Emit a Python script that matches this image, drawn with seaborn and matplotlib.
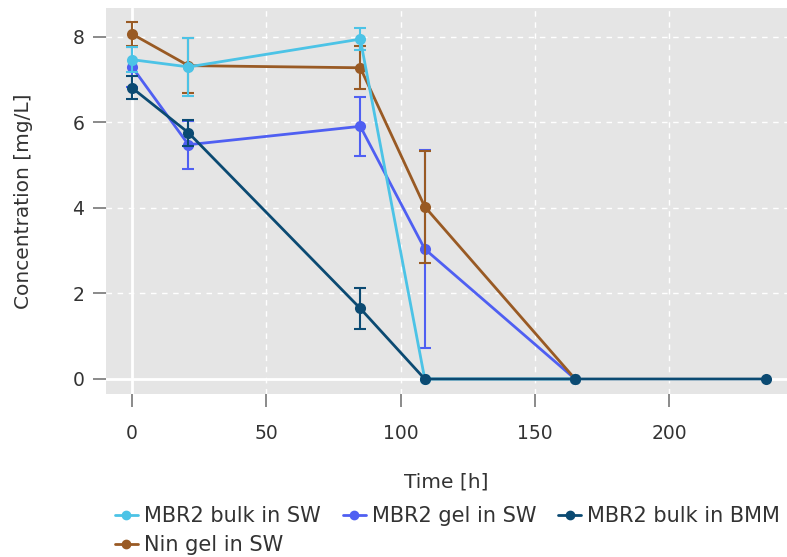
import matplotlib
matplotlib.use("Agg")
import matplotlib.pyplot as plt
import seaborn as sns
import pandas as pd
import numpy as np
from matplotlib.lines import Line2D

# ---- data ----
series_names = ["MBR2 bulk in SW", "MBR2 gel in SW", "MBR2 bulk in BMM", "Nin gel in SW"]

t_bulk_sw = [0, 21, 85, 109, 165]
c_bulk_sw = [7.47, 7.30, 7.95, 0.0, 0.0]
e_bulk_sw = [0.30, 0.67, 0.26, 0.0, 0.0]

t_gel_sw = [0, 21, 85, 109, 165]
c_gel_sw = [7.30, 5.48, 5.91, 3.04, 0.0]
e_gel_sw = [0.47, 0.56, 0.69, 2.31, 0.0]

t_bulk_bmm = [0, 21, 85, 109, 165, 236]
c_bulk_bmm = [6.81, 5.76, 1.65, 0.0, 0.0, 0.0]
e_bulk_bmm = [0.27, 0.30, 0.48, 0.0, 0.0, 0.0]

t_nin = [0, 21, 85, 109, 165]
c_nin = [8.07, 7.33, 7.28, 4.03, 0.0]
e_nin = [0.28, 0.65, 0.50, 1.31, 0.0]

x_ticks = [0, 50, 100, 150, 200]
y_ticks = [0, 2, 4, 6, 8]

colors = {"MBR2 bulk in SW": "#4cc3e6",
          "MBR2 gel in SW": "#4f5ff2",
          "MBR2 bulk in BMM": "#0b4a72",
          "Nin gel in SW": "#995a24"}

frames = []
for name, t, c, e in [("MBR2 bulk in SW", t_bulk_sw, c_bulk_sw, e_bulk_sw),
                      ("MBR2 gel in SW", t_gel_sw, c_gel_sw, e_gel_sw),
                      ("MBR2 bulk in BMM", t_bulk_bmm, c_bulk_bmm, e_bulk_bmm),
                      ("Nin gel in SW", t_nin, c_nin, e_nin)]:
    frames.append(pd.DataFrame({"Time": t, "Conc": c, "Err": e, "Series": name}))
df = pd.concat(frames, ignore_index=True)

sns.set_theme(style="darkgrid")
plt.rcParams["font.family"] = ["DejaVu Sans"]

fig = plt.figure(figsize=(7.87, 5.57), dpi=100)
ax = fig.add_axes([106/787, 1 - 394/557, 681/787, 386/557])
ax.set_facecolor("#e5e5e5")

ax.set_xlim(-9.7, 243.9)
ax.set_ylim(-0.351, 8.678)
ax.set_xticks(x_ticks)
ax.set_yticks(y_ticks)
ax.grid(True, color="white", linestyle=(0, (4, 4)), linewidth=1.0)
ax.axvline(0, color="white", linewidth=2.0, zorder=1)
ax.axhline(0, color="white", linewidth=2.0, zorder=1)
for s in ax.spines.values():
    s.set_visible(False)

draw_order = ["MBR2 gel in SW", "Nin gel in SW", "MBR2 bulk in SW", "MBR2 bulk in BMM"]
for i, name in enumerate(draw_order):
    sub = df[df["Series"] == name]
    z = 3 + i
    mask = sub["Err"] > 0
    ax.errorbar(sub["Time"][mask], sub["Conc"][mask], yerr=sub["Err"][mask], fmt="none",
                ecolor=colors[name], elinewidth=1.5, capsize=4.5, capthick=1.5, zorder=z)
    sns.lineplot(data=sub, x="Time", y="Conc", ax=ax, color=colors[name], linewidth=2.0,
                 marker="o", markersize=8, markeredgewidth=0, label=name, zorder=z,
                 legend=False)

ax.tick_params(axis="both", which="both", length=9.5, width=1.2, color="#777777",
               labelsize=13.5, labelcolor="#333333", direction="out",
               bottom=True, left=True)
ax.tick_params(axis="x", pad=12)
ax.tick_params(axis="y", pad=6)
ax.set_xlabel("Time [h]", fontsize=14.5, color="#333333")
ax.set_ylabel("Concentration [mg/L]", fontsize=14.5, color="#333333")
ax.xaxis.set_label_coords(0.5, (394 - 473) / 386)
ax.yaxis.set_label_coords((33 - 106) / 681, 0.5)

handles = {n: Line2D([0], [0], color=colors[n], linewidth=2.0, marker="o", markersize=6)
           for n in series_names}
order = ["MBR2 bulk in SW", "Nin gel in SW", "MBR2 gel in SW", "MBR2 bulk in BMM"]
fig.legend([handles[n] for n in order], order, loc="upper left",
           bbox_to_anchor=(115/787, 1 - 506/557), ncol=3, frameon=False,
           fontsize=15, handlelength=1.1, handletextpad=0.3, columnspacing=1.05,
           labelspacing=0.45, labelcolor="#333333", borderaxespad=0, borderpad=0)

fig.savefig("out.png", dpi=100, facecolor="white")
